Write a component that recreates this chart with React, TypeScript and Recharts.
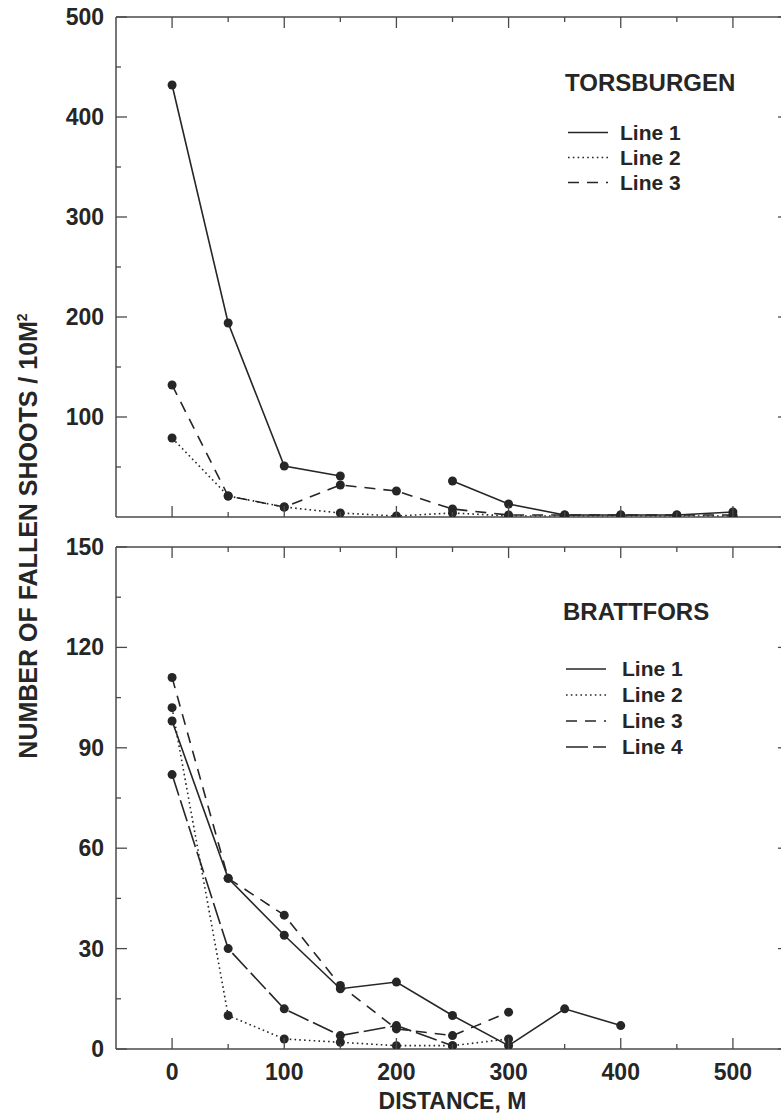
import { LineChart, Line, XAxis, YAxis } from 'recharts'

const distTop = [0, 50, 100, 150, 200, 250, 300, 350, 400, 450, 500]
const torsLine1 = [432, 194, 51, 41, null, 36, 13, 2, 2, 2, 5]
const torsLine2 = [79, 21, 10, 4, 1, 4, 1, 1, 1, 1, 1]
const torsLine3 = [132, 21, 10, 32, 26, 8, 2, 2, 2, 2, 2]

const distBottom = [0, 50, 100, 150, 200, 250, 300, 350, 400]
const brattLine1 = [98, 51, 34, 18, 20, 10, 1, 12, 7]
const brattLine2 = [102, 10, 3, 2, 1, 1, 3]
const brattLine3 = [111, 51, 40, 19, 6, 4, 11]
const brattLine4 = [82, 30, 12, 4, 7, 1]

const xTicks = [0, 50, 100, 150, 200, 250, 300, 350, 400, 450, 500]
const topYTicks = [50, 100, 150, 200, 250, 300, 350, 400, 450, 500]
const bottomYTicks = [0, 15, 30, 45, 60, 75, 90, 105, 120, 135, 150]

const topData = distTop.map((d, i) => ({ d, l1: torsLine1[i], l2: torsLine2[i], l3: torsLine3[i] }))
const bottomData = distBottom.map((d, i) => ({
  d,
  l1: brattLine1[i] ?? null,
  l2: brattLine2[i] ?? null,
  l3: brattLine3[i] ?? null,
  l4: brattLine4[i] ?? null,
}))

const FONT = "'Liberation Sans', Arial, Helvetica, sans-serif"
const INK = '#262626'
const FRAME = '#4a4a4a'

const dot = { r: 4.5, fill: INK, stroke: INK, strokeWidth: 0 }
const DASH = { l1: undefined, l2: '1.6 3.2', l3: '11 8', l4: '22 5' } as Record<string, string | undefined>

// ticks drawn inside the frame; majors get labels
function mkXTick(every: number, labels: boolean, dir: 1 | -1) {
  return (p: any) => {
    const v = p.payload.value
    const major = v % every === 0
    return (
      <g>
        <line x1={p.x} x2={p.x} y1={p.y} y2={p.y + dir * (major ? 11 : 5)} stroke={FRAME} strokeWidth={1.3} />
        {labels && major && (
          <text x={p.x} y={p.y + 31} textAnchor="middle" fontSize={23} fontWeight="bold" fontFamily={FONT} fill={INK}>
            {v}
          </text>
        )}
      </g>
    )
  }
}

function mkYTick(every: number, labels: boolean, dir: 1 | -1) {
  return (p: any) => {
    const v = p.payload.value
    const major = v % every === 0
    return (
      <g>
        <line x1={p.x} x2={p.x + dir * (major ? 11 : 5)} y1={p.y} y2={p.y} stroke={FRAME} strokeWidth={1.3} />
        {labels && major && (
          <text x={p.x - 12} y={p.y + 8} textAnchor="end" fontSize={23} fontWeight="bold" fontFamily={FONT} fill={INK}>
            {v}
          </text>
        )}
      </g>
    )
  }
}

const axisLine = { stroke: FRAME, strokeWidth: 1.5 }

function Frame({ yTicks, yMax, yEvery, showX }: { yTicks: number[]; yMax: number; yEvery: number; showX: boolean }) {
  return [
    <XAxis
      key="xb"
      dataKey="d"
      type="number"
      domain={[-50, 550]}
      allowDataOverflow
      ticks={xTicks}
      interval={0}
      height={showX ? 60 : 1}
      tickSize={0}
      tickMargin={0}
      tickLine={false}
      axisLine={axisLine}
      tick={mkXTick(100, showX, -1)}
      label={
        showX
          ? { value: 'DISTANCE, M', position: 'insideBottom', offset: 0, fontSize: 23, fontWeight: 'bold', fontFamily: FONT, fill: INK }
          : undefined
      }
    />,
    <XAxis
      key="xt"
      xAxisId="top"
      orientation="top"
      dataKey="d"
      type="number"
      domain={[-50, 550]}
      allowDataOverflow
      ticks={xTicks}
      interval={0}
      height={1}
      tickSize={0}
      tickMargin={0}
      tickLine={false}
      axisLine={axisLine}
      tick={mkXTick(100, false, 1)}
    />,
    <YAxis
      key="yl"
      type="number"
      domain={[0, yMax]}
      allowDataOverflow
      ticks={yTicks}
      interval={0}
      width={116}
      tickSize={0}
      tickMargin={0}
      tickLine={false}
      axisLine={axisLine}
      tick={mkYTick(yEvery, true, 1)}
    />,
    <YAxis
      key="yr"
      yAxisId="right"
      orientation="right"
      type="number"
      domain={[0, yMax]}
      allowDataOverflow
      ticks={yTicks}
      interval={0}
      width={1}
      tickSize={0}
      tickMargin={0}
      tickLine={false}
      axisLine={axisLine}
      tick={mkYTick(yEvery, false, -1)}
    />,
  ]
}

function series(keys: string[]) {
  return keys.map((k) => (
    <Line
      key={k}
      dataKey={k}
      type="linear"
      stroke={INK}
      strokeWidth={1.6}
      strokeDasharray={DASH[k]}
      dot={dot}
      activeDot={false}
      isAnimationActive={false}
    />
  ))
}

// invisible series so the mirrored axes get a scale
function mirrorHelper() {
  return (
    <Line
      dataKey="l1"
      xAxisId="top"
      yAxisId="right"
      stroke="none"
      dot={false}
      activeDot={false}
      legendType="none"
      isAnimationActive={false}
    />
  )
}

function LegendBox({ title, keys, left, top, rowH, gap, textX }: any) {
  return (
    <div style={{ position: 'absolute', left, top, fontFamily: FONT, fontWeight: 'bold', color: INK }}>
      <div style={{ fontSize: 24, height: 28, lineHeight: '28px', whiteSpace: 'nowrap' }}>{title}</div>
      <div style={{ marginTop: gap }}>
        {keys.map((k: string, i: number) => (
          <div key={k} style={{ position: 'relative', height: rowH, lineHeight: `${rowH}px`, fontSize: 21, whiteSpace: 'nowrap' }}>
            <svg width={44} height={rowH} style={{ position: 'absolute', left: 3, top: 0 }}>
              <line x1={0} x2={40} y1={rowH / 2} y2={rowH / 2} stroke={INK} strokeWidth={1.6} strokeDasharray={DASH[k]} />
            </svg>
            <span style={{ position: 'absolute', left: textX }}>Line {i + 1}</span>
          </div>
        ))}
      </div>
    </div>
  )
}

export default function App() {
  return (
    <div style={{ position: 'absolute', left: 0, top: 0, width: 781, height: 1113, overflow: 'hidden', background: '#fff' }}>
      <div style={{ position: 'absolute', left: 0, top: 0 }}>
        <LineChart width={808} height={528} data={topData} margin={{ top: 16, right: 18, bottom: 10, left: 0 }}>
          {Frame({ yTicks: topYTicks, yMax: 500, yEvery: 100, showX: false })}
          {series(['l1', 'l2', 'l3'])}
          {mirrorHelper()}
        </LineChart>
      </div>
      <div style={{ position: 'absolute', left: 0, top: 528 }}>
        <LineChart width={808} height={585} data={bottomData} margin={{ top: 18, right: 18, bottom: 4, left: 0 }}>
          {Frame({ yTicks: bottomYTicks, yMax: 150, yEvery: 30, showX: true })}
          {series(['l1', 'l2', 'l3', 'l4'])}
          {mirrorHelper()}
        </LineChart>
      </div>

      <LegendBox title="TORSBURGEN" keys={['l1', 'l2', 'l3']} left={565} top={69} rowH={25} gap={23} textX={55} />
      <LegendBox title="BRATTFORS" keys={['l1', 'l2', 'l3', 'l4']} left={563} top={598} rowH={26} gap={30} textX={59} />

      <div
        style={{
          position: 'absolute',
          left: 28,
          top: 536,
          transform: 'translate(-50%, -50%) rotate(-90deg)',
          whiteSpace: 'nowrap',
          fontFamily: FONT,
          fontWeight: 'bold',
          fontSize: 25,
          color: INK,
        }}
      >
        NUMBER OF FALLEN SHOOTS / 10M<sup style={{ fontSize: 14 }}>2</sup>
      </div>
    </div>
  )
}
